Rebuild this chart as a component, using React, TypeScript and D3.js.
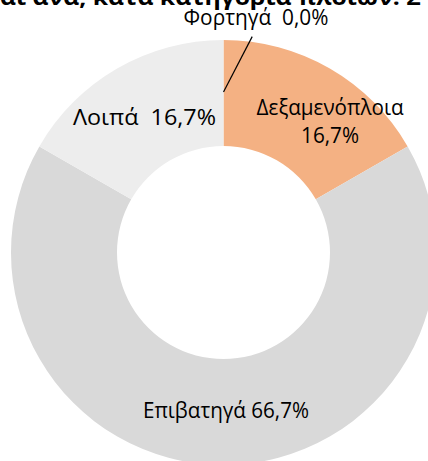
import React from "react";
import * as d3 from "d3";

const categories = ["Φορτηγά", "Δεξαμενόπλοια", "Επιβατηγά", "Λοιπά"];
const shares = [0.0, 16.7, 66.7, 16.7];
const labelLines = [["Φορτηγά  0,0%"], ["Δεξαμενόπλοια", "16,7%"], ["Επιβατηγά 66,7%"], ["Λοιπά  16,7%"]];
const colors = ["#A5A5A5", "#F4B183", "#D9D9D9", "#EDEDED"];
const titleText = "αι ανά, κατά κατηγορία πλοίων: Σ";

// label style: offsets relative to slice centroid and fitted line widths
const labelOffsets = [
  { dx: 32.5, dy: -75.35 },
  { dx: 26.75, dy: 7.25 },
  { dx: 2.5, dy: -1.35 },
  { dx: 0.75, dy: 3.25 },
];
const labelWidths = [[145], [147, 58], [166], [143]];

const W = 428;
const H = 461;
const cx = 223.5;
const cy = 252.5;
const outerR = 212.5;
const innerR = 106.5;
const FONT = "'Open Sans', 'Noto Sans', sans-serif";

export default function App() {
  const pie = d3
    .pie<number>()
    .sort(null)
    .value((d) => d)
    .startAngle(0)
    .endAngle(2 * Math.PI);
  const arcs = pie(shares);
  const arcGen = d3.arc<d3.PieArcDatum<number>>().innerRadius(innerR).outerRadius(outerR);
  const lineHeight = 28;

  return (
    <svg
      width={W}
      height={H}
      style={{ position: "absolute", left: 0, top: 0, background: "#fff" }}
      fontFamily={FONT}
    >
      <text x={0} y={4.5} fontSize={22} fontWeight="bold" fill="#000" textLength={421} lengthAdjust="spacingAndGlyphs">
        {titleText}
      </text>
      <g transform={`translate(${cx},${cy})`}>
        {arcs.map((a, i) => (
          <path key={categories[i]} d={arcGen(a) || ""} fill={colors[i]} />
        ))}
        {arcs.map((a, i) => {
          const [x, y] = arcGen.centroid(a);
          const off = labelOffsets[i];
          const lines = labelLines[i];
          const lx = x + off.dx;
          const ly = y + off.dy;
          const n = lines.length;
          return (
            <g key={"lab" + i}>
              {a.value === 0 && (
                <line x1={x} y1={y - 1} x2={lx - 3.8} y2={ly + 19} stroke="#000" strokeWidth={1.2} />
              )}
              {lines.map((t, j) => (
                <text
                  key={j}
                  x={lx}
                  y={ly + (j - (n - 1) / 2) * lineHeight}
                  dy="0.35em"
                  textAnchor="middle"
                  fontSize={21}
                  fill="#000"
                  style={{ whiteSpace: "pre" }}
                  textLength={labelWidths[i][j]}
                  lengthAdjust="spacingAndGlyphs"
                >
                  {t}
                </text>
              ))}
            </g>
          );
        })}
      </g>
    </svg>
  );
}
